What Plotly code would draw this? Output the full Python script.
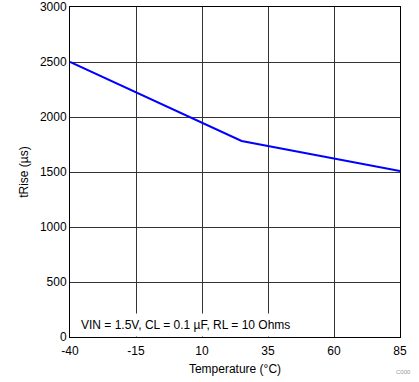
import plotly.graph_objects as go

temperature = [-40, 25, 85]
trise_us = [2500, 1782, 1508]
x_ticks = [-40, -15, 10, 35, 60, 85]
x_tick_labels = ["-40", "-15", "10", "35", "60", "85"]
y_ticks = [0, 500, 1000, 1500, 2000, 2500, 3000]
note = "VIN = 1.5V, CL = 0.1 µF, RL = 10 Ohms"

fig = go.Figure()
fig.add_trace(go.Scatter(x=temperature, y=trise_us, mode="lines",
                         line=dict(color="#0000FF", width=2), showlegend=False))

font = dict(family="Liberation Sans, Arial, sans-serif", size=12, color="black")
fig.update_layout(
    width=419, height=382,
    margin=dict(l=70, r=19, t=7, b=45, autoexpand=False),
    plot_bgcolor="white", paper_bgcolor="white",
    font=font,
    xaxis=dict(range=[-40, 85], tickvals=x_ticks, ticktext=x_tick_labels,
               showgrid=True, gridcolor="#333333", automargin=False,
               gridwidth=1, zeroline=False, showline=True, linecolor="black",
               linewidth=1, mirror=True, ticks="", ticklen=0,
               ticklabelstandoff=3,
               title=dict(text="Temperature (°C)", standoff=7, font=font)),
    yaxis=dict(range=[0, 3000], tickvals=y_ticks, showgrid=True, gridcolor="#333333",
               gridwidth=1, zeroline=False, showline=True, linecolor="black",
               linewidth=1, mirror=True, ticks="", ticklen=0, automargin=False,
               title=dict(text="tRise (µs)", standoff=8, font=font)),
    annotations=[
        dict(text=note, xref="paper", yref="paper", x=0.017, y=0.0,
             xanchor="left", yanchor="bottom", showarrow=False,
             bgcolor="white", borderpad=4, font=font, align="left"),
        dict(text="C000", xref="paper", yref="paper", x=1.039, y=-0.106,
             xanchor="right", yanchor="middle", showarrow=False,
             font=dict(family="Liberation Sans, Arial, sans-serif", size=6, color="#999999")),
    ],
)
fig.write_html("out.html", post_script="document.body.style.margin='0';",
               config={"displayModeBar": False})
